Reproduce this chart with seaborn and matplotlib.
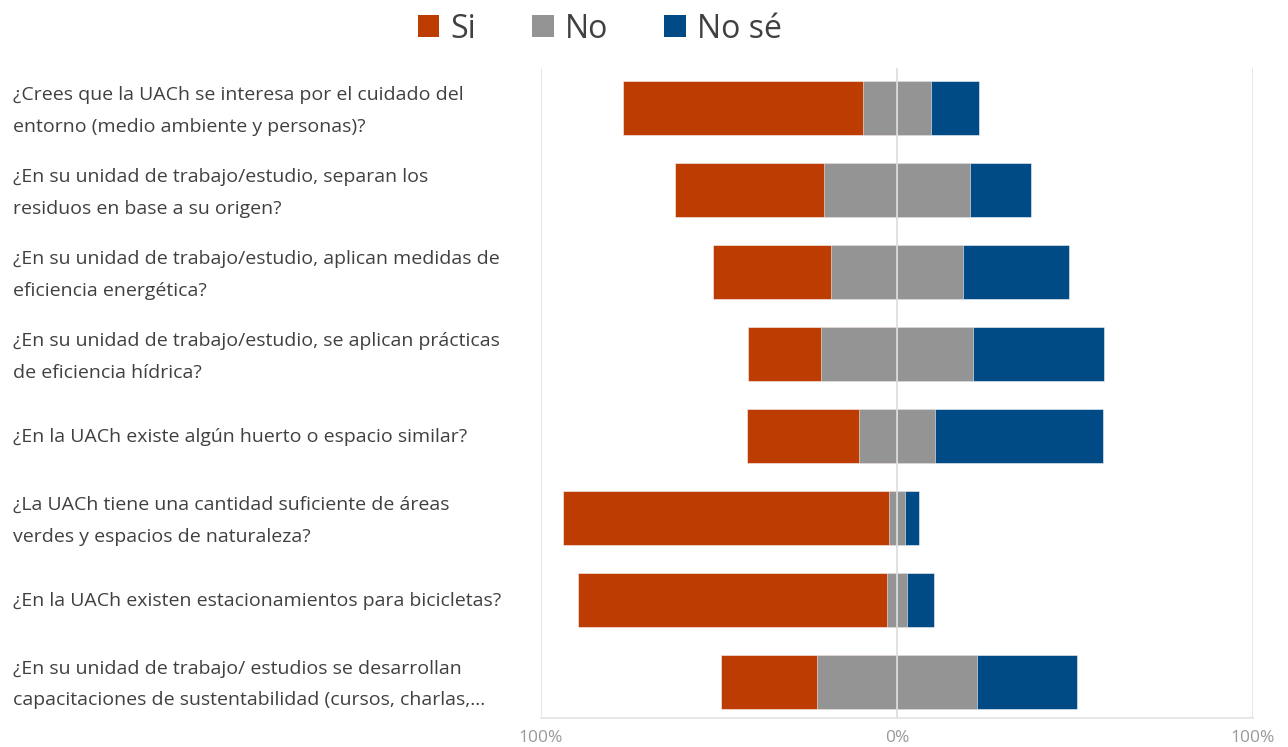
import matplotlib
matplotlib.use("Agg")
import matplotlib.pyplot as plt
import matplotlib.transforms as mtransforms
from matplotlib.patches import Patch
import seaborn as sns
import pandas as pd
import numpy as np

# preguntas (de arriba hacia abajo)
questions = [
    "¿Crees que la UACh se interesa por el cuidado del\nentorno (medio ambiente y personas)?",
    "¿En su unidad de trabajo/estudio, separan los\nresiduos en base a su origen?",
    "¿En su unidad de trabajo/estudio, aplican medidas de\neficiencia energética?",
    "¿En su unidad de trabajo/estudio, se aplican prácticas\nde eficiencia hídrica?",
    "¿En la UACh existe algún huerto o espacio similar?",
    "¿La UACh tiene una cantidad suficiente de áreas\nverdes y espacios de naturaleza?",
    "¿En la UACh existen estacionamientos para bicicletas?",
    "¿En su unidad de trabajo/ estudios se desarrollan\ncapacitaciones de sustentabilidad (cursos, charlas,...",
]
si = [67.3, 42.0, 33.2, 20.5, 31.5, 91.5, 86.7, 27.0]
no = [19.2, 41.0, 37.0, 42.8, 21.1, 4.6, 5.7, 45.0]
no_se = [13.5, 17.0, 29.8, 36.7, 47.4, 3.9, 7.6, 28.0]

series_labels = ["Si", "No", "No sé"]
colors = ["#BC3C02", "#949494", "#004B85"]
tick_labels = ["100%", "0%", "100%"]

df = pd.DataFrame({"q": questions, "si": si, "no": no, "no_se": no_se})
df[["si", "no", "no_se"]] = df[["si", "no", "no_se"]] / 100.0
# segmentos acumulados desde 0 (barra divergente centrada en "No")
df["left_full"] = -(df["no"] / 2 + df["si"])
df["left_half"] = -(df["no"] / 2)
df["right_full"] = df["no"] / 2 + df["no_se"]
df["right_half"] = df["no"] / 2

sns.set_style("white")
plt.rcParams["font.family"] = ["Open Sans", "DejaVu Sans"]

fig = plt.figure(figsize=(12.88, 7.47), dpi=100)
ax = fig.add_axes([541 / 1288, 29 / 747, 712 / 1288, 650 / 747])

bw = 0.66
bar_kws = dict(orient="h", width=bw, saturation=1, ax=ax, order=questions,
               edgecolor="#f4f4f4", linewidth=0.4)
sns.barplot(data=df, y="q", x="right_full", color=colors[2], **bar_kws)
sns.barplot(data=df, y="q", x="left_full", color=colors[0], **bar_kws)
sns.barplot(data=df, y="q", x="right_half", color=colors[1], **bar_kws)
sns.barplot(data=df, y="q", x="left_half", color=colors[1], **bar_kws)

ax.set_xlim(-1, 1)
ax.set_ylim(7.44, -0.49)
ax.axvline(0, color="#dcdcdc", lw=1.2, zorder=5)
ax.axvline(-1, color="#e3e3e3", lw=1.2, zorder=0)
ax.axvline(1, color="#e3e3e3", lw=1.2, zorder=0)

for s in ["top", "left", "right"]:
    ax.spines[s].set_visible(False)
ax.spines["bottom"].set_color("#e3e3e3")
ax.spines["bottom"].set_linewidth(1.2)

ax.set_xticks([-1, 0, 1])
ax.set_xticklabels(tick_labels)
ax.tick_params(axis="x", length=0, pad=9, labelsize=12.5, labelcolor="#999999")
ax.set_yticks([])
ax.set_xlabel("")
ax.set_ylabel("")

# etiquetas de preguntas alineadas a la izquierda de la figura
trans = mtransforms.blended_transform_factory(fig.transFigure, ax.transData)
for i, q in enumerate(questions):
    dy = 0.035 if "\n" in q else 0.01
    ax.text(13 / 1288, i + dy, q, transform=trans, ha="left", va="center",
            fontsize=14, color="#404040", linespacing=1.95)

handles = [Patch(facecolor=c, edgecolor="none", label=l) for c, l in zip(colors, series_labels)]
fig.legend(handles=handles, loc="center", bbox_to_anchor=(600 / 1288, 1 - 29 / 747),
           ncol=3, frameon=False, fontsize=23, handlelength=0.68, handleheight=0.68,
           handletextpad=0.35, columnspacing=1.75, labelcolor="#404040")

fig.savefig("out.png", dpi=100)
